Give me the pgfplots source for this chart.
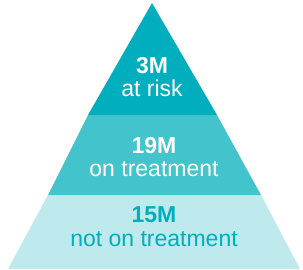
\documentclass[border=0pt]{standalone}
\usepackage{pgfplots}
\pgfplotsset{compat=1.18}
\usepackage{fontspec}
\setmainfont{Liberation Sans}
\definecolor{topc}{RGB}{0,174,189}
\definecolor{midc}{RGB}{67,196,204}
\definecolor{botc}{RGB}{190,234,237}
\begin{document}
\begin{tikzpicture}
\begin{axis}[
  width=303pt, height=269pt, scale only axis,
  xmin=0, xmax=303, ymin=0, ymax=269, y dir=reverse,
  hide axis, clip=false,
]
\addplot[fill=botc, draw=none] coordinates {(48,195) (261,195) (300,269) (8,269)} -- cycle;
\addplot[fill=midc, draw=none] coordinates {(88,115) (217,115) (261,195) (48,195)} -- cycle;
\addplot[fill=topc, draw=none] coordinates {(152,3) (217,115) (88,115)} -- cycle;
\node[anchor=base, text=white, font=\fontsize{23}{27}\selectfont\bfseries] at (axis cs:152,73) {3M};
\node[anchor=base, text=white, font=\fontsize{23}{27}\selectfont] at (axis cs:152,96) {at risk};
\node[anchor=base, text=white, font=\fontsize{23}{27}\selectfont\bfseries] at (axis cs:154,153) {19M};
\node[anchor=base, text=white, font=\fontsize{23}{27}\selectfont] at (axis cs:154,176) {on treatment};
\node[anchor=base, text=topc, font=\fontsize{23}{27}\selectfont\bfseries] at (axis cs:154,222) {15M};
\node[anchor=base, text=topc, font=\fontsize{23}{27}\selectfont] at (axis cs:154,246) {not on treatment};
\coordinate (bbA) at (axis cs:0,0);
\coordinate (bbB) at (axis cs:303,269);
\end{axis}
\pgfresetboundingbox
\path[use as bounding box] (bbA) rectangle (bbB);
\end{tikzpicture}
\end{document}
